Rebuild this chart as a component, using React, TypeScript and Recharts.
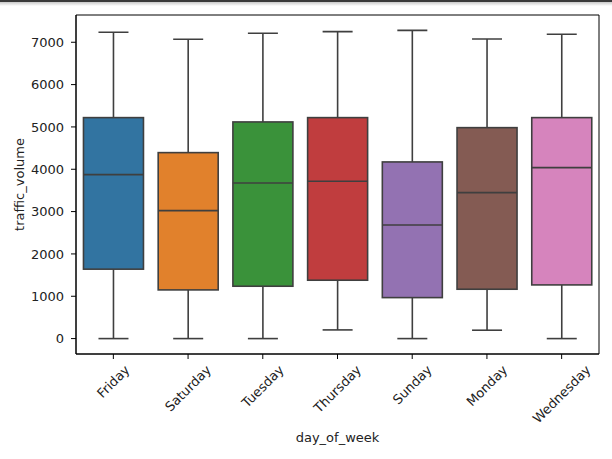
import React from 'react';
import { ComposedChart, Bar, XAxis, YAxis, ReferenceArea } from 'recharts';

const days = ['Friday', 'Saturday', 'Tuesday', 'Thursday', 'Sunday', 'Monday', 'Wednesday'];
const whiskerLow = [0, 0, 0, 205, 0, 198, 0];
const q1 = [1640, 1150, 1237, 1379, 968, 1166, 1268];
const median = [3873, 3023, 3677, 3717, 2685, 3448, 4039];
const q3 = [5220, 4393, 5118, 5220, 4173, 4983, 5220];
const whiskerHigh = [7237, 7071, 7213, 7251, 7280, 7078, 7189];
const yTicks = [0, 1000, 2000, 3000, 4000, 5000, 6000, 7000];
const yDomain = [-364, 7644];

const palette = ['#3274a1', '#e1812c', '#3a923a', '#c03d3e', '#9372b2', '#845b53', '#d684bd'];
const edge = '#3f3f3f';
const font = 'DejaVu Sans, sans-serif';

const data = days.map((day, i) => ({
  day,
  box: [q1[i], q3[i]],
  low: whiskerLow[i],
  q1: q1[i],
  med: median[i],
  q3: q3[i],
  high: whiskerHigh[i],
}));

let ctx: CanvasRenderingContext2D | null = null;
function textWidth(s: string) {
  if (!ctx) ctx = document.createElement('canvas').getContext('2d');
  if (!ctx) return s.length * 7.5;
  ctx.font = `13px ${font}`;
  return ctx.measureText(s).width;
}

function BoxShape(props: any) {
  const { x, y, width, height, payload, index } = props;
  const ppu = height / (payload.q3 - payload.q1);
  const toY = (v: number) => y + (payload.q3 - v) * ppu;
  const cx = x + width / 2;
  const cap = width / 4;
  return (
    <g>
      <line x1={cx} x2={cx} y1={toY(payload.high)} y2={y} stroke={edge} strokeWidth={1.6} />
      <line x1={cx} x2={cx} y1={y + height} y2={toY(payload.low)} stroke={edge} strokeWidth={1.6} />
      <line x1={cx - cap} x2={cx + cap} y1={toY(payload.high)} y2={toY(payload.high)} stroke={edge} strokeWidth={1.6} />
      <line x1={cx - cap} x2={cx + cap} y1={toY(payload.low)} y2={toY(payload.low)} stroke={edge} strokeWidth={1.6} />
      <rect x={x} y={y} width={width} height={height} fill={palette[index]} stroke={edge} strokeWidth={1.6} />
      <line x1={x} x2={x + width} y1={toY(payload.med)} y2={toY(payload.med)} stroke={edge} strokeWidth={1.6} />
    </g>
  );
}

function DayTick(props: any) {
  const { x, y, payload } = props;
  const w = textWidth(payload.value);
  const h = 13;
  const cy = y + (w + h) * 0.3536;
  return (
    <text
      x={x}
      y={cy}
      textAnchor="middle"
      dominantBaseline="central"
      transform={`rotate(-45 ${x} ${cy})`}
      fontFamily={font}
      fontSize={13}
      fill="#222"
    >
      {payload.value}
    </text>
  );
}

export default function App() {
  return (
    <div style={{ position: 'absolute', left: 0, top: 0, width: 612, height: 459, background: '#fff' }}>
      <div
        style={{
          position: 'absolute',
          left: 0,
          top: 0,
          width: 612,
          height: 6,
          background: 'linear-gradient(#3a3a3a 0px, #3a3a3a 1.5px, #cfcfcf 2.5px, #ffffff 6px)',
        }}
      />
      <ComposedChart
        width={612}
        height={459}
        data={data}
        margin={{ top: 15, right: 13, bottom: 0, left: 0 }}
        barCategoryGap="10%"
      >
        <XAxis
          dataKey="day"
          height={105}
          interval={0}
          tickSize={5}
          tickMargin={4}
          tickLine={{ stroke: '#000' }}
          axisLine={{ stroke: '#000', strokeWidth: 1 }}
          tick={<DayTick />}
          label={({ viewBox }: any) => (
            <text
              x={viewBox.x + viewBox.width / 2}
              y={viewBox.y + 88}
              textAnchor="middle"
              fontFamily={font}
              fontSize={13}
              fill="#222"
            >
              day_of_week
            </text>
          )}
        />
        <YAxis
          domain={yDomain}
          allowDataOverflow
          ticks={yTicks}
          width={76}
          tickSize={5}
          tickMargin={7}
          tickLine={{ stroke: '#000' }}
          axisLine={{ stroke: '#000', strokeWidth: 1 }}
          tick={{ fontFamily: font, fontSize: 13, fill: '#222' }}
          label={({ viewBox }: any) => {
            const lx = 19;
            const ly = viewBox.y + viewBox.height / 2;
            return (
              <text
                x={lx}
                y={ly}
                textAnchor="middle"
                dominantBaseline="central"
                transform={`rotate(-90 ${lx} ${ly})`}
                fontFamily={font}
                fontSize={13}
                fill="#222"
              >
                traffic_volume
              </text>
            );
          }}
        />
        <ReferenceArea
          y1={yDomain[0]}
          y2={yDomain[1]}
          fill="#fff"
          fillOpacity={0}
          stroke="#000"
          strokeWidth={1}
          strokeOpacity={1}
          ifOverflow="visible"
        />
        <Bar dataKey="box" shape={<BoxShape />} isAnimationActive={false} />
      </ComposedChart>
    </div>
  );
}
